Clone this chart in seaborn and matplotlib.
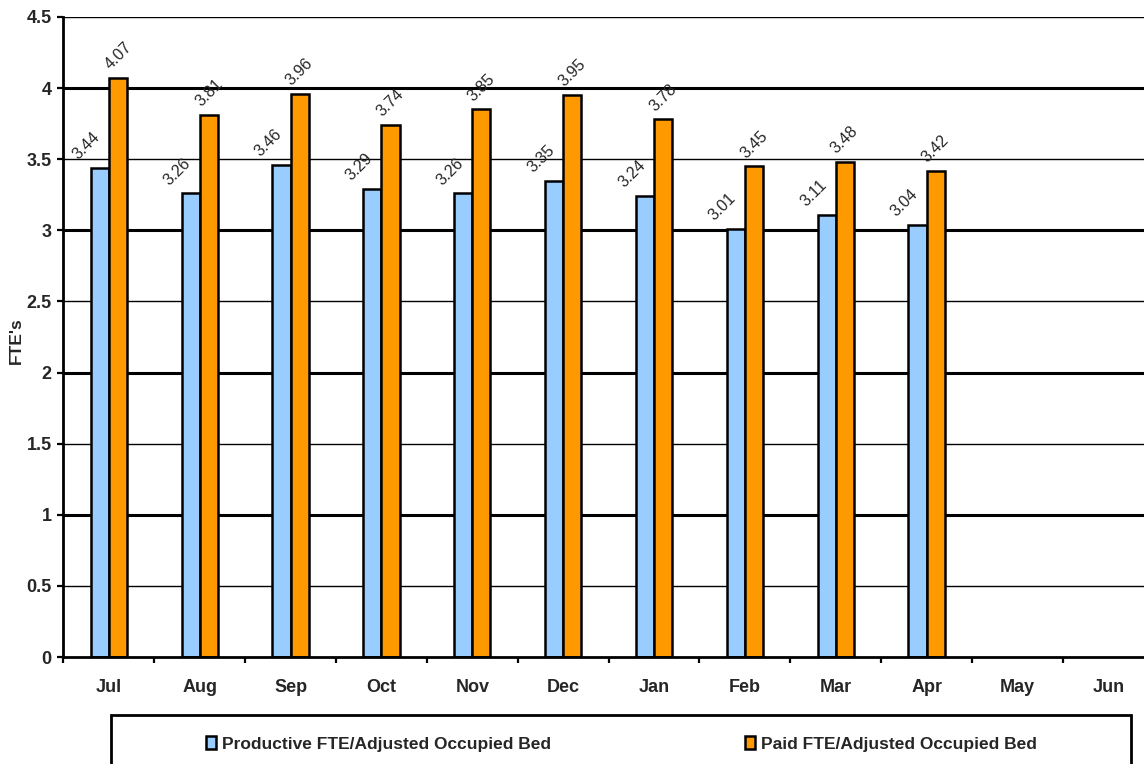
import matplotlib
matplotlib.use("Agg")
import matplotlib.pyplot as plt
import numpy as np
import pandas as pd
import seaborn as sns
from matplotlib.patches import Rectangle

# ---------------------------------------------------------
# DATA
# ---------------------------------------------------------
months = ["Jul", "Aug", "Sep", "Oct", "Nov", "Dec",
          "Jan", "Feb", "Mar", "Apr", "May", "Jun"]
productive = [3.44, 3.26, 3.46, 3.29, 3.26, 3.35,
              3.24, 3.01, 3.11, 3.04, np.nan, np.nan]
paid = [4.07, 3.81, 3.96, 3.74, 3.85, 3.95,
        3.78, 3.45, 3.48, 3.42, np.nan, np.nan]
series_names = ["Productive FTE/Adjusted Occupied Bed",
                "Paid FTE/Adjusted Occupied Bed"]
colors = ["#99CCFF", "#FF9900"]

df = pd.DataFrame({
    "month": months * 2,
    "value": productive + paid,
    "series": [series_names[0]] * len(months) + [series_names[1]] * len(months),
})

# ---------------------------------------------------------
# PLOT
# ---------------------------------------------------------
sns.set_style("white")
plt.rcParams["font.family"] = ["Liberation Sans", "DejaVu Sans"]

fig = plt.figure(figsize=(11.44, 7.64), dpi=100)
# plot area runs a little past the right edge, as in the reference
ax = fig.add_axes([0.0555, 0.140, 0.953, 0.8378])

sns.barplot(
    data=df, x="month", y="value", hue="series",
    order=months, hue_order=series_names,
    palette=colors, width=0.4, gap=0,
    edgecolor="black", linewidth=1.8,
    saturation=1, legend=False, ax=ax,
)

# gridlines: thick at integers, thin at halves
for y in np.arange(0.5, 4.51, 0.5):
    lw = 2.2 if float(y).is_integer() else 1.0
    ax.axhline(y, color="black", linewidth=lw, zorder=0)

ax.set_ylim(0, 4.5)
ax.set_xlim(-0.5, len(months) - 0.5)
ax.set_yticks(np.arange(0, 4.51, 0.5))
ax.set_yticklabels(["0", "0.5", "1", "1.5", "2", "2.5", "3", "3.5", "4", "4.5"])

ax.set_xticks(range(len(months)))
ax.set_xticklabels(months)
ax.set_xticks(np.arange(-0.5, len(months), 1.0), minor=True)
ax.tick_params(axis="x", which="major", length=0, pad=16, labelsize=13)
ax.tick_params(axis="x", which="minor", length=4.5, width=1.6,
               direction="out", bottom=True, color="black")
ax.tick_params(axis="y", length=4.5, width=1.6, direction="out",
               left=True, color="black", labelsize=13, pad=4)
for lab in ax.get_xticklabels() + ax.get_yticklabels():
    lab.set_fontweight("bold")

ax.set_xlabel("")
ax.set_ylabel("FTE's", fontsize=12.5, fontweight="bold")
ax.yaxis.set_label_coords(-0.036, 0.494)

for side in ["top", "right"]:
    ax.spines[side].set_visible(False)
for side in ["left", "bottom"]:
    ax.spines[side].set_color("black")
    ax.spines[side].set_linewidth(2)

# data labels, rotated
offsets = [(-9.4, 15.8), (0, 15.8)]
for container, (dx, dy) in zip(ax.containers, offsets):
    for bar in container:
        h = bar.get_height()
        if np.isnan(h):
            continue
        ax.annotate(
            f"{h:.2f}",
            (bar.get_x() + bar.get_width() / 2, h),
            xytext=(dx, dy), textcoords="offset points",
            ha="center", va="center", rotation=45, fontsize=11.5,
        )

# legend box at the bottom
fig.patches.append(Rectangle(
    (111 / 1144, -0.02), (1131 - 111) / 1144, 0.02 + (764 - 715) / 764,
    transform=fig.transFigure, fill=False, edgecolor="black",
    linewidth=2, clip_on=False,
))
handles = [Rectangle((0, 0), 1, 1, facecolor=c, edgecolor="black", linewidth=1.8)
           for c in colors]
leg = fig.legend(
    handles, series_names, loc="center left",
    bbox_to_anchor=(206 / 1144, 1 - 744 / 764), ncol=2,
    frameon=False, borderpad=0, borderaxespad=0,
    handlelength=0.6, handleheight=0.7, handletextpad=0.3,
    columnspacing=11.2, prop={"weight": "bold", "size": 12.5},
)

plt.savefig("out.png", dpi=100)
plt.close()
